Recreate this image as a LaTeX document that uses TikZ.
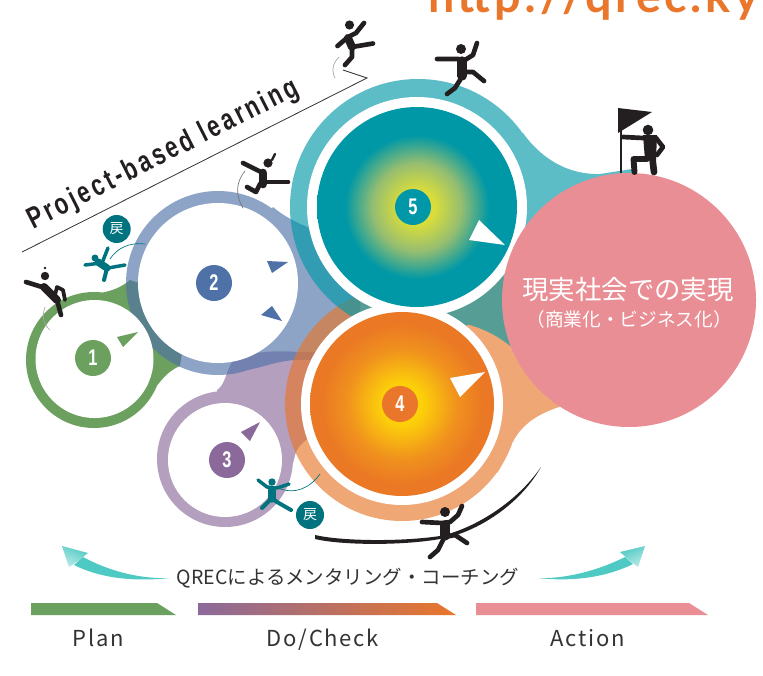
\documentclass[tikz,border=0pt]{standalone}
\usepackage{fontspec}
\setmainfont{Liberation Sans}
\newfontfamily\condb{Liberation Sans}[FakeStretch=0.74,LetterSpace=10]
\newfontfamily\numf{Liberation Sans}[FakeStretch=0.72]
\newfontfamily\jp{Noto Sans CJK JP}
\newfontfamily\jpw{Noto Sans CJK JP}[LetterSpace=8]
\newfontfamily\topf{Lato}[LetterSpace=8]
\definecolor{cpink}{HTML}{EA8E95}
\definecolor{cgreen}{HTML}{6CA05E}
\definecolor{bblue}{HTML}{4E71A8}
\definecolor{bpurple}{HTML}{8B6A9B}
\definecolor{borange}{HTML}{E9762A}
\definecolor{bteal}{HTML}{0098A8}
\definecolor{dteal}{HTML}{00737F}
\definecolor{figk}{HTML}{231F20}
\definecolor{arrowt}{HTML}{4FC9C3}
\definecolor{txtk}{HTML}{333333}
\definecolor{fa}{HTML}{E8E02C}
\definecolor{fb}{HTML}{D8DC3C}
\definecolor{fc}{HTML}{96BE70}
\definecolor{fd}{HTML}{0098A6}
\definecolor{ga}{HTML}{FFE000}
\definecolor{gb}{HTML}{FCCD0A}
\definecolor{gc}{HTML}{F0911E}
\definecolor{gd}{HTML}{EA7824}
\pgfdeclareradialshading{gradfive}{\pgfpoint{0bp}{0bp}}{color(0bp)=(fa);color(4.5bp)=(fb);color(11bp)=(fc);color(18bp)=(fd);color(25bp)=(fd);color(50bp)=(fd)}
\pgfdeclareradialshading{gradfour}{\pgfpoint{0bp}{0bp}}{color(0bp)=(ga);color(6bp)=(gb);color(15bp)=(gc);color(22bp)=(gd);color(25bp)=(gd);color(50bp)=(gd)}
\tikzset{
  blob/.style={fill opacity=.64},
  disc/.style={circle,inner sep=0pt,minimum size=27pt,text=white},
  digit/.style={disc,font=\numf\bfseries\fontsize{17}{17}\selectfont},
  modoru/.style={circle,inner sep=0pt,minimum size=21pt,fill=dteal,text=white,font=\jp\fontsize{10.5}{10.5}\selectfont},
  limb/.style={line width=#1,line cap=round,line join=round},
  limb/.default=3.5pt,
  label/.style={anchor=base,text=txtk,font=\jpw\fontsize{16.5}{17}\selectfont,inner sep=0pt},
  thinarc/.style={line width=.5pt,line cap=round}
}
\begin{document}
\begin{tikzpicture}[x=0.75pt,y=-0.75pt]
\useasboundingbox (0,0) rectangle (763,675);
\fill[white] (0,0) rectangle (763,675);
% top text, cut by the page
\begin{scope}
\clip (0,0) rectangle (763,675);
\node[anchor=base west,inner sep=0pt,text=borange,font=\topf\bfseries\fontsize{35}{35}\selectfont] (url) at (428,12) {http:/\kern.5pt/\kern.5pt qrec.ky};
\end{scope}
% coloured blobs
\fill[cgreen] (94,360) circle[radius=68] (94,360) -- (100,293) .. controls (112,291) and (122,287) .. (130,280) -- (190,300) -- (180,366) .. controls (165,372) and (158,385) .. (143,404) -- cycle;
\fill[bpurple,blob] (225,459) circle[radius=68] (225,459) -- (217,390) .. controls (225,385) and (226,372) .. (232,362) .. controls (245,352) and (270,350) .. (300,352) -- (330,352) -- (320,430) .. controls (305,440) and (299,445) .. (296,452) .. controls (293,462) and (292,472) .. (283,483) -- cycle;
\fill[bblue,blob] (218,283) circle[radius=92] (218,283) -- (273,207) .. controls (295,226) and (325,232) .. (360,250) -- (360,340) -- (310,360) .. controls (280,358) and (265,368) .. (233,373) -- cycle;
\fill[borange,blob] (402,404) circle[radius=117] (402,404) -- (470,270) -- (620,300) -- (562,406) .. controls (540,413) and (525,422) .. (515,438) .. controls (508,450) and (505,462) .. (497,473) -- cycle;
\fill[bteal,blob] (418,207) circle[radius=128] (418,207) -- (523,133) .. controls (535,150) and (560,175) .. (600,174) -- (632,169) -- (629,300) -- (515,350) .. controls (500,337) and (485,328) .. (458,322) -- cycle;
% white interiors
\fill[white] (94.5,359) circle[radius=59];
\fill[white] (218,283) circle[radius=80];
\fill[white] (225,460) circle[radius=57];
\fill[white] (402,404) circle[radius=101];
\fill[white] (417,207) circle[radius=110];
% gradient discs
\shade[shading=gradfour] (402,404) circle[radius=92];
\shade[shading=gradfive] (417,207) circle[radius=100];
% goal circle
\fill[cpink] (629,300) circle[radius=127];
% triangles
\fill[cgreen] (138,332) -- (117,337) -- (123,347) -- cycle;
\fill[bblue] (267,261) -- (288,262) -- (272,273) -- cycle;
\fill[bblue] (261,315) -- (272,306) -- (282,321) -- cycle;
\fill[bpurple] (260,422) -- (241,432) -- (250,441) -- cycle;
\fill[white] (485,372) -- (450,378) -- (460,397) -- cycle;
\fill[white] (505,245) -- (479,220) -- (469,240) -- cycle;
% number badges
\node[digit,fill=cgreen] (n1) at (93,358) {1};
\node[digit,fill=bblue] (n2) at (214,283) {2};
\node[digit,fill=bpurple] (n3) at (227,460) {3};
\node[digit,fill=borange] (n4) at (400,404) {4};
\node[digit,fill=bteal] (n5) at (413,207) {5};
% goal text
\node[text=white,font=\jp\fontsize{19.8}{20}\selectfont,inner sep=0pt] (goal) at (628,290) {現実社会での実現};
\node[text=white,font=\jp\fontsize{14}{14}\selectfont,inner sep=0pt] (goalsub) at (629,319) {（商業化・ビジネス化）};
% project-based line and label
\draw[line width=.6pt,txtk] (22,252) -- (367,78) -- (343,70);
\node[rotate=26.8,text=figk,font=\condb\bfseries\fontsize{22.5}{23}\selectfont,inner sep=0pt] (pbl) at (163.5,155) {Project-based learning};
% thin arcs
\draw[thinarc,gray!70] (339,57) .. controls (333,63) and (331,70) .. (335,78);
\draw[thinarc,gray!90!black] (245,171) .. controls (236,182) and (235,195) .. (243,208);
\draw[thinarc,gray!70] (45,307) .. controls (42,315) and (43,324) .. (50,330);
\draw[thinarc,dteal] (110,259) .. controls (117,248) and (130,242) .. (145,244);
\draw[thinarc,dteal] (278,488) .. controls (295,495) and (310,488) .. (320,474);
% long dark arc
\fill[figk] (315,535) .. controls (340,541) and (400,542) .. (440,536) .. controls (470,530) and (515,505) .. (541,467) .. controls (518,508) and (472,534) .. (440,539) .. controls (400,546) and (340,545) .. (315,539) -- cycle;
% figure A
\begin{scope}[figk]
\fill (349.5,25) circle[radius=4.6];
\draw[limb] (337.5,46) -- (348,37) -- (356,33) -- (364,23);
\draw[limb=6pt] (348,38) -- (352,47);
\draw[limb] (352,47) -- (373,43.5);
\draw[limb] (352,47) -- (352,57) -- (345,65);
\end{scope}
% figure C
\begin{scope}[figk]
\fill (461,49) circle[radius=5];
\draw[limb] (437,59) -- (458,59) -- (465,60) -- (473,55) -- (477,43);
\draw[limb=7pt] (462,61) -- (462,76);
\draw[limb] (463,72) -- (473,72) -- (484,81);
\draw[limb] (460,80) -- (455,88) -- (447,94);
\end{scope}
% figure B
\begin{scope}[figk]
\fill (445,512) circle[radius=5];
\draw[limb] (422,522) -- (442,523) -- (450,522) -- (458,515) -- (462,506);
\draw[limb=7pt] (445,525) -- (445,536);
\draw[limb] (445,537) -- (455,535) -- (467,543);
\draw[limb] (443,540) -- (438,550) -- (430,557);
\end{scope}
% figure D
\begin{scope}[figk]
\fill (268,163) circle[radius=4.6];
\draw[limb=1.8pt] (275,154) -- (272,160);
\draw[limb] (243,163) -- (263,173);
\draw[limb=6.5pt] (263,173) -- (263,184);
\draw[limb] (265,182) -- (288,182);
\draw[limb] (260,184) -- (256,192) -- (247,187);
\end{scope}
% figure F
\begin{scope}[figk]
\fill (45,276) circle[radius=4.2];
\fill (45,268) circle[radius=1.4];
\draw[limb] (26,282) -- (42,287);
\draw[limb=6pt] (44,287) -- (57,300);
\draw[limb] (57,300) -- (61,315);
\draw[limb=2.8pt] (55,295) -- (57,287) -- (63,290) -- (65,300);
\end{scope}
% flag figure
\begin{scope}[figk]
\fill (618,108) -- (652,112) -- (618,133) -- cycle;
\draw[line width=1.5pt] (620.5,130) -- (620.5,173);
\fill (648,130) circle[radius=5.3];
\fill (643,135) -- (657,135) -- (656,160) -- (645,160) -- cycle;
\draw[limb] (623,137) -- (643,138);
\draw[limb] (656,138) -- (663,147) -- (657,155);
\draw[limb=5pt] (652,155) -- (654,172);
\draw[limb=4.4pt] (647,159) -- (633.5,159) -- (634.5,172);
\end{scope}
% teal figures
\begin{scope}[dteal]
\fill (95,258) circle[radius=3.5];
\draw[limb=2.6pt] (85,265) -- (97,263.5);
\draw[limb=2.6pt] (102,263) -- (108,248);
\draw[limb=5.5pt] (98,262) -- (107,268);
\draw[limb=2.6pt] (108,268) -- (125,265);
\draw[limb=3pt] (107,268) -- (104,280);
\fill (272,482) circle[radius=3.7];
\draw[limb=2.6pt] (258,480) -- (267,487) -- (277,488) -- (289,484);
\draw[limb=5.5pt] (272,490) -- (272,499);
\draw[limb=3pt] (272,498) -- (262,508);
\draw[limb=3pt] (272,498) -- (277,502) -- (291,510);
\end{scope}
\node[modoru] (back1) at (116.7,229) {戻};
\node[modoru] (back2) at (310,515) {戻};
% swoosh arrows
\fill[arrowt] (170,578) .. controls (143,579) and (113,573) .. (83,557) -- (74,565) .. controls (100,578) and (133,582) .. (170,578) -- cycle;
\shade[top color=arrowt,bottom color=arrowt!40,shading angle=-25] (62,546) -- (88,553) -- (78,561) -- (69,567) -- cycle;
\fill[arrowt] (538,578) .. controls (560,579) and (593,573) .. (625,557) -- (633,564) .. controls (607,577) and (573,582) .. (538,578) -- cycle;
\shade[top color=arrowt,bottom color=arrowt!40,shading angle=25] (645,546) -- (620,552) -- (629,560) -- (638,567) -- cycle;
\node[text=txtk,font=\jp\fontsize{14.6}{15}\selectfont,inner sep=0pt] (mentor) at (348,578.5) {QRECによるメンタリング・コーチング};
% phase bars
\fill[cgreen] (31,603) -- (157,603) -- (176,615) -- (31,615) -- cycle;
\shade[left color=bpurple,right color=borange] (198,603) -- (437,603) -- (456,615) -- (198,615) -- cycle;
\fill[cpink] (476,603) -- (689,603) -- (708,615) -- (476,615) -- cycle;
\node[label] (plan) at (98,646) {Plan};
\node[label] (docheck) at (323,646) {Do/Check};
\node[label] (action) at (588,646) {Action};
\end{tikzpicture}
\end{document}
